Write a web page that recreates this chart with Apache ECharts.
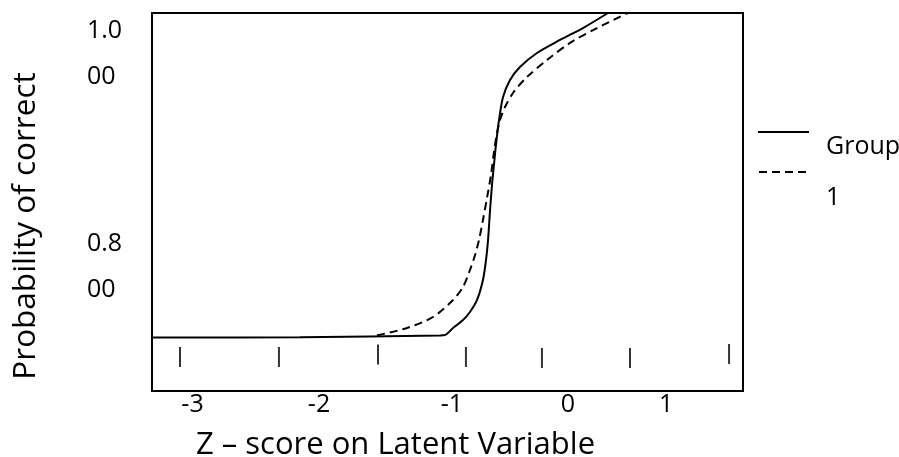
<!DOCTYPE html>
<html>
<head>
<meta charset="utf-8">
<script src="https://cdn.jsdelivr.net/npm/echarts@6/dist/echarts.min.js"></script>
<style>
  html,body{margin:0;padding:0;background:#fff;}
  #chart{width:899px;height:457px;}
</style>
</head>
<body>
<div id="chart"></div>
<script>
// curve for group "Group" (solid) - [z, p]
const groupSolid = [
  [-3.35, 0.7342], [-2.10, 0.7345], [-0.913, 0.7361], [-0.871, 0.7365],
  [-0.803, 0.7431], [-0.719, 0.7506], [-0.660, 0.7581], [-0.600, 0.7694],
  [-0.550, 0.7881], [-0.524, 0.8069], [-0.507, 0.8256], [-0.490, 0.8537],
  [-0.4735, 0.8772], [-0.457, 0.8960], [-0.440, 0.9147], [-0.414, 0.9382],
  [-0.380, 0.9597], [-0.321, 0.9757], [-0.237, 0.9879], [-0.093, 1.0010],
  [0.102, 1.0132], [0.296, 1.0244], [0.508, 1.0385]
]
// curve for group "1" (dashed)
const groupDashed = [
  [-1.446, 0.7362], [-1.193, 0.7431], [-0.973, 0.7534], [-0.8035, 0.7693],
  [-0.719, 0.7815], [-0.660, 0.7975], [-0.617, 0.8115], [-0.5835, 0.8256],
  [-0.550, 0.8444], [-0.516, 0.8650], [-0.482, 0.8866], [-0.457, 0.9081],
  [-0.431, 0.9260], [-0.406, 0.9382], [-0.3635, 0.9503], [-0.296, 0.9635],
  [-0.177, 0.9785], [-0.008, 0.9944], [0.186, 1.0104], [0.415, 1.0244],
  [0.677, 1.0385]
]
// short marks along the bottom
const rugMarks = [
  [-3.113, 0.7159], [-2.276, 0.7159], [-1.438, 0.7182], [-0.694, 0.7159],
  [-0.051, 0.7150], [0.694, 0.7150], [1.532, 0.7187]
]
// x tick labels and where they sit
const xLabelText = ['-3', '-2', '-1', '0', '1']
const xLabelPos = [-3.007, -1.937, -0.812, 0.169, 0.999]
// y tick labels
const yLabelPos = [0.8, 1.0]

const FONT = 'Open Sans'
const chart = echarts.init(document.getElementById('chart'))

let option = {
  animation: false,
  textStyle: {fontFamily: FONT, color: '#000'},
  grid: {
    left: 152, top: 13, width: 591, height: 378,
    show: true, borderColor: '#000', borderWidth: 2,
    containLabel: false, outerBoundsMode: 'none'
  },
  legend: [
    {
      data: ['Group'], orient: 'vertical', left: 757, top: 102, padding: 0,
      itemWidth: 51, itemHeight: 14, itemStyle: {opacity: 0},
      formatter: n => '\n' + n,
      textStyle: {fontFamily: FONT, fontSize: 25, color: '#000', lineHeight: 30, padding: [0, 0, 0, 12]}
    },
    {
      data: ['1'], orient: 'vertical', left: 758, top: 120, padding: 0,
      itemWidth: 51, itemHeight: 14, itemStyle: {opacity: 0},
      formatter: n => '\n' + n,
      textStyle: {fontFamily: FONT, fontSize: 25, color: '#000', lineHeight: 52, padding: [0, 0, 0, 11]}
    }
  ],
  xAxis: {
    type: 'value', min: -3.35, max: 1.65,
    axisLine: {show: false}, axisTick: {show: false}, splitLine: {show: false},
    axisLabel: {
      customValues: xLabelPos,
      formatter: v => {
        let i = xLabelPos.findIndex(p => Math.abs(p - v) < 1e-6)
        return i >= 0 ? xLabelText[i] : ''
      },
      fontSize: 25, color: '#000', margin: 1
    },
    name: 'Z – score on Latent Variable', nameLocation: 'middle', nameGap: 39,
    nameTextStyle: {fontSize: 31, color: '#000', padding: [0, 104, 0, 0]}
  },
  yAxis: {
    type: 'value', min: 0.684, max: 1.0385,
    axisLine: {show: false}, axisTick: {show: false}, splitLine: {show: false},
    axisLabel: {
      customValues: yLabelPos,
      formatter: v => {
        let s = v.toFixed(3)
        return s.slice(0, 3) + '\n' + s.slice(3)
      },
      fontSize: 25, color: '#000', lineHeight: 46, align: 'left', margin: 65
    },
    name: 'Probability of correct', nameLocation: 'middle', nameGap: 110,
    nameTextStyle: {fontSize: 31.5, color: '#000', padding: [0, 48, 0, 0]}
  },
  series: [
    {
      name: 'Group', type: 'line', data: groupSolid, symbol: 'none', smooth: 0.3,
      lineStyle: {color: '#000', width: 2}, itemStyle: {color: '#000'}
    },
    {
      name: '1', type: 'line', data: groupDashed, symbol: 'none', smooth: 0.3,
      lineStyle: {color: '#000', width: 2, type: [8, 5]}, itemStyle: {color: '#000'}
    },
    {
      name: 'rug', type: 'scatter', data: rugMarks, symbol: 'rect', symbolSize: [2, 20],
      itemStyle: {color: '#000'}, silent: true
    }
  ]
}
chart.setOption(option)
</script>
</body>
</html>
